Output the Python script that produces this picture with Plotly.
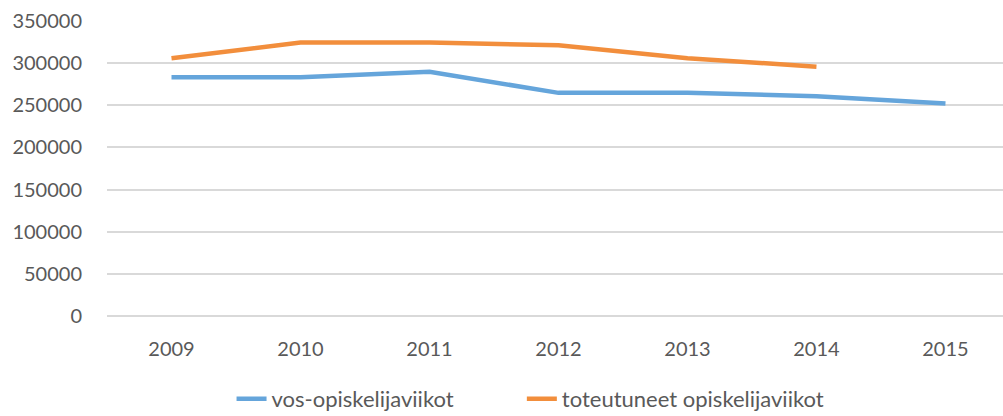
import plotly.graph_objects as go

years = ["2009", "2010", "2011", "2012", "2013", "2014", "2015"]
vos = [283200, 283200, 289500, 264600, 264600, 260700, 252000]
toteutuneet = [305700, 324200, 324200, 321100, 305700, 295700, None]
y_ticks = [0, 50000, 100000, 150000, 200000, 250000, 300000, 350000]

font_family = "Lato, 'Open Sans', sans-serif"
text_color = "#595959"

fig = go.Figure()
fig.add_trace(go.Scatter(x=years, y=vos, mode="lines", name="vos-opiskelijaviikot",
                         line=dict(color="#65a5db", width=4.5), legend="legend"))
fig.add_trace(go.Scatter(x=years, y=toteutuneet, mode="lines", name="toteutuneet opiskelijaviikot",
                         line=dict(color="#f28e3c", width=4.5), legend="legend2"))

leg_common = dict(orientation="h", yanchor="middle", y=-0.28, xanchor="left",
                  font=dict(size=22, color=text_color), bgcolor="rgba(0,0,0,0)")

fig.update_layout(
    width=1003, height=416,
    margin=dict(l=107, r=0, t=20, b=100, autoexpand=False),
    paper_bgcolor="white", plot_bgcolor="white",
    font=dict(family=font_family, size=20, color=text_color),
    showlegend=True,
    legend=dict(x=0.139, **leg_common),
    legend2=dict(x=0.463, **leg_common),
    xaxis=dict(type="category", range=[-0.5, 6.446], showgrid=False, showline=False,
               ticks="", ticklabelstandoff=19, tickfont=dict(size=20)),
    yaxis=dict(range=[0, 351000], tickvals=y_ticks, ticktext=[str(v) for v in y_ticks],
               showgrid=True, gridcolor="#d9d9d9", gridwidth=2,
               zeroline=True, zerolinecolor="#d9d9d9", zerolinewidth=2,
               showline=False, ticks="", ticklabelstandoff=24, tickfont=dict(size=20)),
)

fig.write_html("out.html", config={"displayModeBar": False},
               post_script="document.body.style.margin='0';document.body.style.overflow='hidden';")
